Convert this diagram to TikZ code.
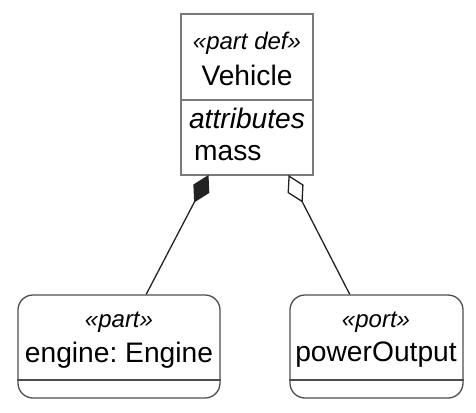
\documentclass[tikz,border=0pt]{standalone}
\usepackage{fontspec}
\setmainfont{Liberation Sans}
\usepackage{xcolor}
\usetikzlibrary{arrows.meta}

\definecolor{boxgray}{HTML}{7A7A7A}
\definecolor{linedark}{HTML}{222222}

\tikzset{
  stereo/.style={font=\fontsize{24}{28}\selectfont\itshape},
  nametext/.style={font=\fontsize{28.2}{32}\selectfont},
  defbox/.style={draw=boxgray, line width=1.3pt, rectangle, inner sep=0pt},
  usagebox/.style={draw=linedark!80, line width=1.3pt, rectangle, rounded corners=15pt, inner sep=0pt},
}

\begin{document}
\frenchspacing
\begin{tikzpicture}[x=1pt, y=-1pt]
        \useasboundingbox (0,0) rectangle (476,412);

        \node (vehicle) at (247, 94.5) [defbox, minimum width=132pt, minimum height=161pt] {};
        \node (engine)  at (119, 346.5) [usagebox, minimum width=202pt, minimum height=103pt] {};
        \node (power)   at (376.5, 346.5) [usagebox, minimum width=173pt, minimum height=103pt] {};

        \draw[boxgray, line width=1.3pt] (vehicle.west |- 0,100) -- (vehicle.east |- 0,100);
        \draw[linedark!80, line width=1.3pt] (engine.west |- 0,380) -- (engine.east |- 0,380);
        \draw[linedark!80, line width=1.3pt] (power.west |- 0,380) -- (power.east |- 0,380);

        \node (vstereo) at (247, 43) [stereo] {«part def»};
        \node (vname)   at (247, 75) [nametext] {Vehicle};
        \node (vattr)   at (247, 118) [nametext, font=\fontsize{28.2}{32}\selectfont\itshape] {attributes};
        \node (vmass)   at (194, 153) [nametext, anchor=west, inner sep=0pt] {mass};

        \node (estereo) at (119, 322) [stereo] {«part»};
        \node (ename)   at (119, 355) [nametext] {engine: Engine};
        \node (pstereo) at (376, 322) [stereo] {«port»};
        \node (pname)   at (376, 355) [nametext] {powerOutput};

        \coordinate (compEnd) at (208.5, 175);
        \coordinate (aggEnd)  at (288.5, 175);

        \draw[{Diamond[length=31pt, width=18pt, fill=linedark]}-, linedark, line width=1.3pt] (compEnd) -- (engine);
        \draw[{Diamond[length=31pt, width=18pt, fill=white]}-, linedark, line width=1.3pt] (aggEnd) -- (power);
    \end{tikzpicture}
\end{document}
